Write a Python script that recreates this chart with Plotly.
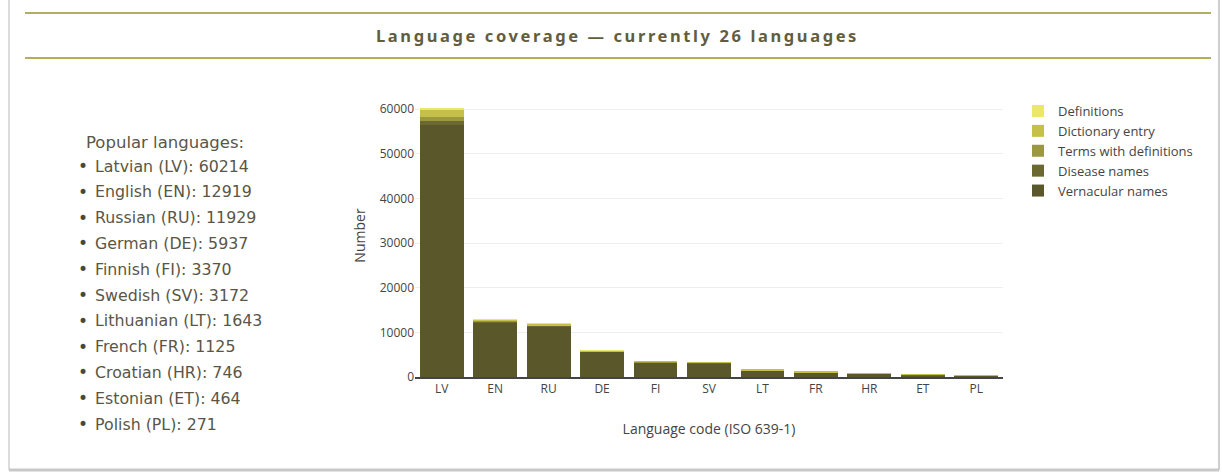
import plotly.graph_objects as go

# Language codes (x categories) and their display names
codes = ["LV", "EN", "RU", "DE", "FI", "SV", "LT", "FR", "HR", "ET", "PL"]
names = ["Latvian", "English", "Russian", "German", "Finnish", "Swedish",
         "Lithuanian", "French", "Croatian", "Estonian", "Polish"]

# Entry counts per content type, stacked bottom to top
vernacular_names = [56500, 12300, 11400, 5700, 3320, 3120, 1500, 1000, 700, 430, 240]
disease_names = [800, 100, 50, 30, 30, 30, 20, 20, 20, 20, 20]
terms_with_definitions = [900, 50, 30, 20, 10, 10, 23, 5, 6, 4, 1]
dictionary_entry = [1700, 450, 420, 180, 10, 12, 100, 100, 20, 10, 10]
definitions = [314, 19, 29, 7, 0, 0, 0, 0, 0, 0, 0]

series = [
    ("Vernacular names", vernacular_names, "#5a572b"),
    ("Disease names", disease_names, "#6c6930"),
    ("Terms with definitions", terms_with_definitions, "#9c983f"),
    ("Dictionary entry", dictionary_entry, "#c4c04a"),
    ("Definitions", definitions, "#ece669"),
]

totals = [sum(v) for v in zip(vernacular_names, disease_names, terms_with_definitions,
                              dictionary_entry, definitions)]

W, H = 1222, 473

fig = go.Figure()
for label, values, color in series:
    fig.add_trace(go.Bar(x=codes, y=values, name=label, marker_color=color,
                         marker_line_width=0))

def px_x(x):
    return x / W

def px_y(y):
    return 1 - y / H

TITLE_FONT = "Noto Sans"
LIST_FONT = "DejaVu Sans"
title_color = "#625d3e"
list_color = "#5a5646"
rule_color = "#b3ae5e"

shapes = [
    # rules above and below the heading
    dict(type="line", xref="paper", yref="paper", x0=px_x(25), x1=px_x(1211),
         y0=px_y(13), y1=px_y(13), line=dict(color=rule_color, width=2)),
    dict(type="line", xref="paper", yref="paper", x0=px_x(25), x1=px_x(1211),
         y0=px_y(58), y1=px_y(58), line=dict(color=rule_color, width=2)),
    # card edges
    dict(type="line", xref="paper", yref="paper", x0=px_x(9), x1=px_x(9),
         y0=px_y(0), y1=px_y(470), line=dict(color="#dcdcdc", width=2)),
    dict(type="line", xref="paper", yref="paper", x0=px_x(1219), x1=px_x(1219),
         y0=px_y(0), y1=px_y(470), line=dict(color="#cfcfcf", width=2)),
    dict(type="line", xref="paper", yref="paper", x0=px_x(9), x1=px_x(1219),
         y0=px_y(470), y1=px_y(470), line=dict(color="#c8c8c8", width=3)),
]

annotations = [
    dict(text="<b><span style='letter-spacing:2.6px'>Language coverage — currently 26 languages</span></b>",
         x=px_x(617), y=px_y(36), xref="paper", yref="paper", showarrow=False,
         xanchor="center", yanchor="middle",
         font=dict(family=TITLE_FONT, size=16.5, color=title_color)),
    dict(text="Popular languages:", x=px_x(84), y=px_y(142), xref="paper", yref="paper",
         showarrow=False, xanchor="left", yanchor="middle",
         font=dict(family=LIST_FONT, size=16.5, color=list_color)),
]

for i, (name, code, total) in enumerate(zip(names, codes, totals)):
    yy = px_y(166 + i * 25.8)
    annotations.append(dict(text="•", x=px_x(76), y=yy, xref="paper", yref="paper",
                            showarrow=False, xanchor="left", yanchor="middle",
                            font=dict(family=LIST_FONT, size=17, color="#4a4738")))
    annotations.append(dict(text=f"{name} ({code}): {total}", x=px_x(93), y=yy,
                            xref="paper", yref="paper", showarrow=False,
                            xanchor="left", yanchor="middle",
                            font=dict(family=LIST_FONT, size=15.8, color=list_color)))

fig.update_layout(
    width=W, height=H,
    margin=dict(l=0, r=0, t=0, b=0),
    paper_bgcolor="white", plot_bgcolor="white",
    barmode="stack", bargap=0.18,
    font=dict(family="Open Sans", color="#444"),
    shapes=shapes, annotations=annotations,
    showlegend=True,
    legend=dict(x=px_x(1018), y=px_y(96), xanchor="left", yanchor="top",
                traceorder="reversed", font=dict(size=13, color="#444"),
                itemsizing="constant", tracegroupgap=0),
    xaxis=dict(domain=[px_x(415), px_x(1003)], showline=True, linecolor="#444",
               linewidth=1.5, ticks="", tickfont=dict(size=12),
               title=dict(text="Language code (ISO 639-1)", font=dict(size=14), standoff=28),
               automargin=False),
    yaxis=dict(domain=[px_y(377), px_y(94)], range=[0, 63383], gridcolor="#eeeeee",
               zeroline=False, tickfont=dict(size=12), tickformat="d",
               dtick=10000,
               title=dict(text="Number", font=dict(size=14), standoff=10),
               automargin=False),
)

fig.write_html("out.html")
